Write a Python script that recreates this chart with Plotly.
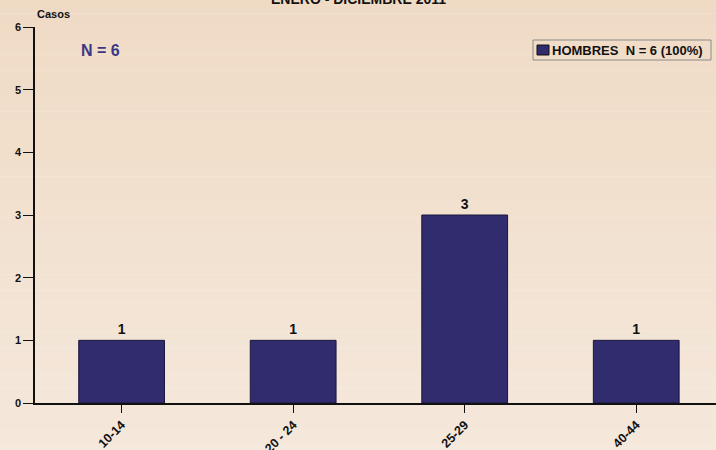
import plotly.graph_objects as go

grupos = ["10-14", "20 - 24", "25-29", "40-44"]
casos = [1, 1, 3, 1]
y_ticks = [0, 1, 2, 3, 4, 5, 6]
titulo = "ENERO - DICIEMBRE 2011"
serie = "HOMBRES  N = 6 (100%)"
total_txt = "N = 6"

FONT = "Liberation Sans, Arial"
BAR_COLOR = "#312C6E"

# plot area in pixels, used to place the hand drawn legend
L, R, T, B = 35, 716, 27, 403


def px(x):
    return (x - L) / (R - L)


def py(y):
    return (B - y) / (B - T)


fig = go.Figure()

# vertical gradient background built from thin bands
n_bands = 60
top_rgb = (239, 218, 196)
bot_rgb = (245, 233, 221)
for i in range(n_bands):
    t = i / (n_bands - 1)
    c = tuple(round(top_rgb[k] + (bot_rgb[k] - top_rgb[k]) * t) for k in range(3))
    fig.add_shape(type="rect", xref="paper", yref="paper",
                  x0=-0.1, x1=1.1,
                  y0=1.1 - (i + 1) * 1.3 / n_bands, y1=1.1 - i * 1.3 / n_bands + 0.001,
                  fillcolor="rgb(%d,%d,%d)" % c, line=dict(width=0), layer="below")

fig.add_trace(go.Bar(
    x=grupos, y=casos, name=serie, width=0.5, showlegend=False,
    marker=dict(color=BAR_COLOR, line=dict(color="#1a1740", width=1)),
    text=["<b>%d</b>" % v for v in casos], textposition="outside",
    textfont=dict(family=FONT, size=14, color="#111111"),
    cliponaxis=False,
))

# legend box (drawn by hand to match the compact original)
fig.add_shape(type="rect", xref="paper", yref="paper",
              x0=px(533), x1=px(711), y0=py(60), y1=py(40),
              line=dict(color="#8a8a8a", width=1), fillcolor="rgba(0,0,0,0)")
fig.add_shape(type="rect", xref="paper", yref="paper",
              x0=px(537), x1=px(549), y0=py(55), y1=py(45),
              line=dict(color="#111111", width=1), fillcolor=BAR_COLOR)
fig.add_annotation(text="<b>%s</b>" % serie.replace("  ", "&nbsp; "), xref="paper", yref="paper",
                   x=px(550), y=py(50), xanchor="left", yanchor="middle", showarrow=False,
                   font=dict(family=FONT, size=13, color="#111111"))

fig.add_annotation(text="<b>%s</b>" % titulo, xref="paper", yref="paper",
                   x=0.475, y=1, yanchor="bottom", yshift=18, showarrow=False,
                   font=dict(family=FONT, size=14, color="#111111"))
fig.add_annotation(text="<b>Casos</b>", xref="paper", yref="paper",
                   x=0, y=1, xanchor="left", yanchor="bottom", yshift=5, showarrow=False,
                   font=dict(family=FONT, size=11, color="#111111"))
fig.add_annotation(text="<b>%s</b>" % total_txt, xref="paper", yref="paper",
                   x=px(100), y=py(51), xanchor="center", yanchor="middle", showarrow=False,
                   font=dict(family=FONT, size=16, color="#3a3787"))

fig.update_layout(
    width=716, height=450,
    margin=dict(l=L, r=716 - R, t=T, b=450 - B),
    paper_bgcolor="rgba(0,0,0,0)", plot_bgcolor="rgba(0,0,0,0)",
    showlegend=False,
    xaxis=dict(range=[-0.505, 3.465], showgrid=False, showline=True, linecolor="#111111",
               linewidth=1.5, ticks="outside", ticklen=8, tickcolor="#111111",
               tickangle=-45, automargin=False,
               tickfont=dict(family=FONT, size=12.5, color="#111111", weight="bold")),
    yaxis=dict(range=[0, 6], tickvals=y_ticks, showgrid=False, showline=True,
               linecolor="#111111", linewidth=1.5, ticks="outside", ticklen=10,
               tickcolor="#111111", mirror=True, zeroline=False, automargin=False,
               tickfont=dict(family=FONT, size=11,
                             color="#111111", weight="bold")),
    bargap=0.5,
)

fig.write_html("out.html", config={"displayModeBar": False},
               post_script="document.body.style.margin='0';document.body.style.overflow='hidden';")
